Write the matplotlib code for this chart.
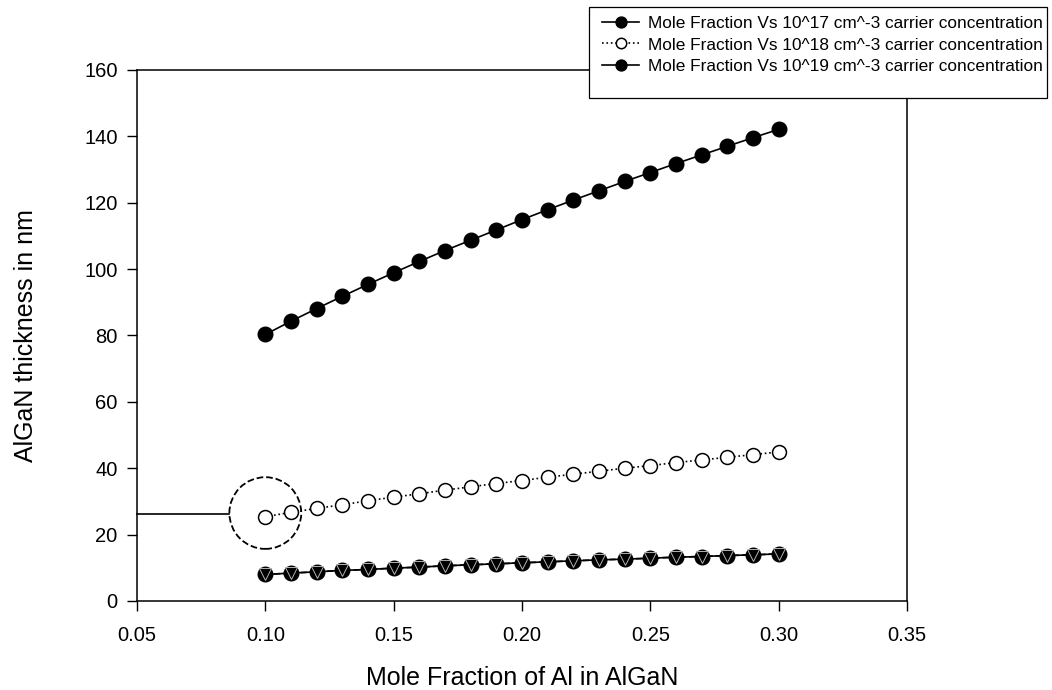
import numpy as np
import matplotlib
matplotlib.use("Agg")
import matplotlib.pyplot as plt
from matplotlib.patches import Ellipse, Rectangle

plt.rcParams['font.family'] = ['Liberation Sans', 'DejaVu Sans']

# mole fraction of Al
x = [0.10, 0.11, 0.12, 0.13, 0.14, 0.15, 0.16, 0.17, 0.18, 0.19, 0.20,
     0.21, 0.22, 0.23, 0.24, 0.25, 0.26, 0.27, 0.28, 0.29, 0.30]

# thickness (nm) for each carrier concentration
t17 = [80.3, 84.3, 88.1, 91.8, 95.4, 98.9, 102.3, 105.6, 108.7, 111.8, 114.9,
       117.9, 120.8, 123.6, 126.4, 129.1, 131.8, 134.4, 137.0, 139.6, 142.1]
t18 = [25.4, 26.7, 27.9, 29.0, 30.2, 31.3, 32.3, 33.4, 34.4, 35.4, 36.3,
       37.3, 38.2, 39.1, 40.0, 40.8, 41.7, 42.5, 43.3, 44.1, 44.9]
t19 = [8.0, 8.4, 8.8, 9.2, 9.5, 9.9, 10.2, 10.6, 10.9, 11.2, 11.5,
       11.8, 12.1, 12.4, 12.6, 12.9, 13.2, 13.4, 13.7, 13.9, 14.2]

labels = ["Mole Fraction Vs 10^17 cm^-3 carrier concentration",
          "Mole Fraction Vs 10^18 cm^-3 carrier concentration",
          "Mole Fraction Vs 10^19 cm^-3 carrier concentration"]

xticks = [0.05, 0.10, 0.15, 0.20, 0.25, 0.30, 0.35]
yticks = [0, 20, 40, 60, 80, 100, 120, 140, 160]

W, H = 1052, 690
fig = plt.figure(figsize=(W / 100, H / 100), dpi=100)
ax = fig.add_axes([0.1302, 0.129, 0.732, 0.7696])

l1, = ax.plot(x, t17, '-', color='black', lw=1.2, marker='o', ms=10.5,
              mfc='black', mec='black', label=labels[0])
l2, = ax.plot(x, t18, ':', color='black', lw=1.2, marker='o', ms=10,
              mfc='white', mec='black', mew=1.1, label=labels[1])
l3, = ax.plot(x, t19, '-', color='black', lw=1.2, marker='o', ms=10.5,
              mfc='black', mec='black', label=labels[2])
# overlapping hidden series (triangles, dashed)
ax.plot(x, t19, '--', color='black', lw=1.2, marker='v', ms=9,
        mfc='black', mec='0.7', mew=0.7)

# annotation: dashed circle + leader line
ax.add_patch(Ellipse((0.10, 26.5), 0.028, 21.6, fill=False, ls='--',
                     lw=1.3, color='black', zorder=5))
ax.plot([0.05, 0.0858], [26.3, 26.3], '-', color='black', lw=1.2, clip_on=False)

ax.set_xlim(0.05, 0.35)
ax.set_ylim(0, 160)
ax.set_xticks(xticks)
ax.set_xticklabels(["%.2f" % v for v in xticks])
ax.set_yticks(yticks)
ax.tick_params(direction='out', length=7, width=1, labelsize=14.5)
ax.tick_params(axis='x', pad=11)
ax.tick_params(axis='y', pad=7)
for s in ax.spines.values():
    s.set_linewidth(1.1)

ax.set_xlabel("Mole Fraction of Al in AlGaN", fontsize=18, labelpad=15)
ax.set_ylabel("AlGaN thickness in nm", fontsize=18, labelpad=33)

# legend box (white, covers the top-right corner of the frame)
bx0, bx1, by0, by1 = 589, 1047, 7, 98
fig.patches.append(Rectangle((bx0 / W, 1 - by1 / H), (bx1 - bx0) / W,
                             (by1 - by0) / H, transform=fig.transFigure,
                             facecolor='white', edgecolor='black', lw=0.9,
                             zorder=2))
leg = fig.legend(handles=[l1, l2, l3], loc='center',
                 bbox_to_anchor=(822 / W, 1 - 45 / H), fontsize=12.4,
                 frameon=False, handlelength=2.2, handletextpad=0.47,
                 borderpad=0, labelspacing=0.4, markerscale=0.75)
leg.set_zorder(3)

fig.savefig("out.png", dpi=100)
